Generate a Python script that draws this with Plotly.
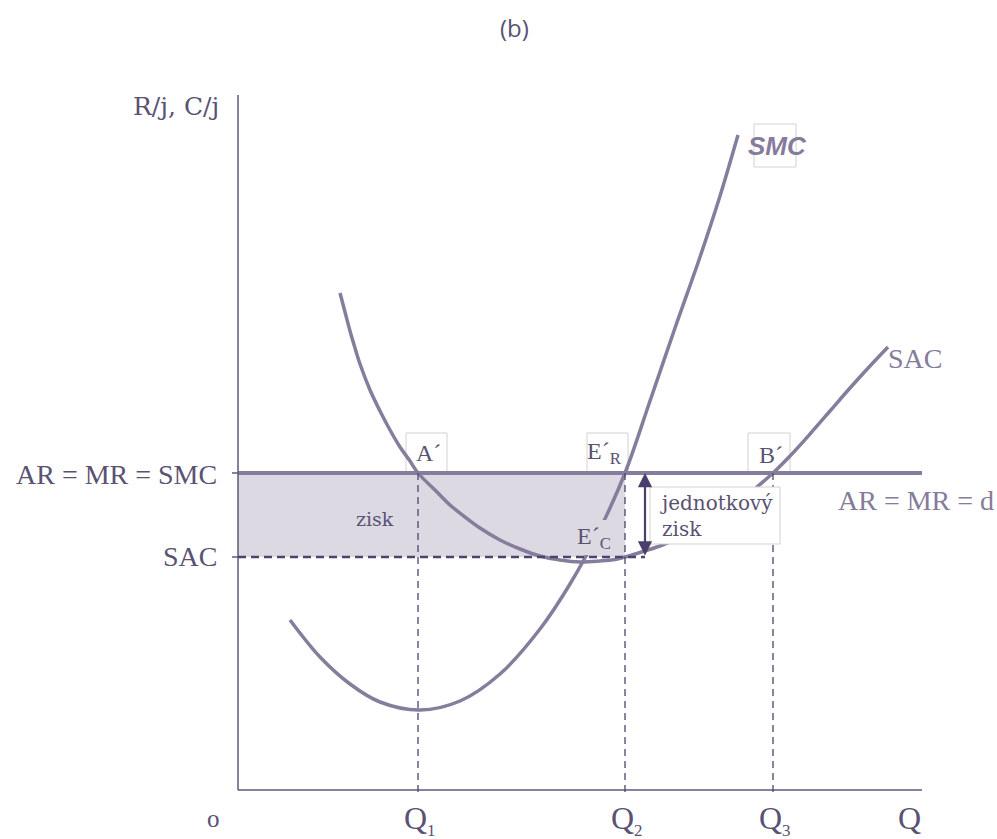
import plotly.graph_objects as go

# ---- values (quantity units on x, price/cost per unit on y) ----
sac_q = [10.2, 10.7, 11.2, 11.7, 12.2, 13.2, 14.2, 15.2, 16.2, 17.2, 18.0,
         19.7, 21.2, 22.7, 24.2, 26.2, 28.2, 30.2, 32.2, 34.2, 36.2, 37.7,
         38.7, 40.2, 42.2, 44.2, 46.2, 48.2, 50.2, 51.9, 53.5, 55.2, 57.2,
         59.2, 61.2, 63.2, 65.0]
sac_c = [49.7, 47.8, 45.9, 44.2, 42.6, 40.0, 37.9, 36.0, 34.3, 32.9, 31.7,
         30.0, 28.5, 27.3, 26.2, 25.0, 24.1, 23.4, 23.0, 22.8, 22.9, 23.05,
         23.3, 23.75, 24.4, 25.2, 26.1, 27.3, 28.8, 30.3, 31.7, 33.4, 35.6,
         37.9, 40.2, 42.4, 44.3]

smc_q = [5.2, 8.2, 11.2, 14.2, 18.2, 22.2, 26.2, 30.2, 33.2, 36.2, 38.7,
         41.2, 43.7, 46.2, 48.2, 50.0]
smc_c = [17.0, 13.3, 10.6, 8.8, 8.0, 8.9, 11.6, 16.1, 20.6, 26.1, 31.7,
         38.9, 46.2, 53.3, 59.4, 65.5]

price = 31.7          # AR = MR = d
sac_at_q2 = 23.3      # SAC level at Q2
q_marks = [18.0, 38.7, 53.5]
q_subs = ["1", "2", "3"]
ar_end = 68.4
y_top = 69.5

# ---- styling ----
CURVE = "#867c9c"
AXIS = "#5f5878"
DASH = "#4b446e"
TEXT = "#5a5272"
LIGHT_TEXT = "#857b9b"
SHADE = "#dcd9e2"
BOX = "#d2d2d2"
ARROW = "#4a3f6b"
SERIF = "Liberation Serif, Times New Roman, serif"
WIDE_SERIF = "DejaVu Serif, serif"


def X(px):
    return (px - 238) / 10.0


def Y(py):
    return (790 - py) / 10.0


fig = go.Figure()

fig.add_trace(go.Scatter(x=sac_q, y=sac_c, mode="lines", line_shape="spline",
                         line=dict(color=CURVE, width=3.5), hoverinfo="skip"))
fig.add_trace(go.Scatter(x=smc_q, y=smc_c, mode="lines", line_shape="spline",
                         line=dict(color=CURVE, width=3.5), hoverinfo="skip"))
fig.add_trace(go.Scatter(x=[0, ar_end], y=[price, price], mode="lines",
                         line=dict(color=CURVE, width=4), hoverinfo="skip"))

shapes = []
# profit rectangle
shapes.append(dict(type="rect", xref="x", yref="y", x0=0, x1=q_marks[1],
                   y0=sac_at_q2, y1=price, fillcolor=SHADE, line_width=0,
                   layer="below"))
# axes
shapes.append(dict(type="line", xref="x", yref="y", x0=0, x1=0, y0=0, y1=y_top,
                   line=dict(color=AXIS, width=1.5)))
shapes.append(dict(type="line", xref="x", yref="y", x0=0, x1=ar_end, y0=0, y1=0,
                   line=dict(color=AXIS, width=1.5)))
# y ticks
for lvl in (price, sac_at_q2):
    shapes.append(dict(type="line", xref="x", yref="y", x0=X(232), x1=0,
                       y0=lvl, y1=lvl, line=dict(color=AXIS, width=1.5)))
# dashed SAC level
shapes.append(dict(type="line", xref="x", yref="y", x0=0, x1=X(645),
                   y0=sac_at_q2, y1=sac_at_q2,
                   line=dict(color=DASH, width=2.5, dash="8px,5px")))
# dashed verticals
for q in q_marks:
    shapes.append(dict(type="line", xref="x", yref="y", x0=q, x1=q,
                       y0=price, y1=Y(797),
                       line=dict(color=DASH, width=1.3, dash="7px,5px")))
# label frames
for (x0, y0, x1, y1) in [(406, 433, 447, 472), (587, 433, 628, 472),
                         (748, 433, 790, 472), (754, 124, 796, 167)]:
    shapes.append(dict(type="rect", xref="x", yref="y", x0=X(x0), x1=X(x1),
                       y0=Y(y1), y1=Y(y0), line=dict(color=BOX, width=1),
                       fillcolor="rgba(0,0,0,0)", layer="below"))
# white panel for the unit-profit caption, drawn over the curves
shapes.append(dict(type="rect", xref="x", yref="y", x0=X(650), x1=X(780),
                   y0=Y(544), y1=Y(487), line=dict(color=BOX, width=1),
                   fillcolor="white", layer="above"))
# E'C caption patch on the shaded band
shapes.append(dict(type="rect", xref="x", yref="y", x0=X(577), x1=X(608),
                   y0=Y(555), y1=Y(520), line_width=0,
                   fillcolor=SHADE, layer="above"))

ann = []


def label(px, py, text, size=26, color=TEXT, xanchor="center", family=SERIF,
          **kw):
    ann.append(dict(x=X(px), y=Y(py), xref="x", yref="y", text=text,
                    showarrow=False, xanchor=xanchor, yanchor="middle",
                    font=dict(family=family, size=size, color=color), **kw))


label(514, 27, "(b)", size=24, family="Open Sans, sans-serif")
label(176, 106, "R/j, C/j", size=25, family=WIDE_SERIF)
label(219, 474, "AR = MR = SMC", size=28, xanchor="right")
label(219, 556, "SAC", size=28, xanchor="right")
label(213, 818, "o", size=25)
for q, s in zip(q_marks, q_subs):
    ann.append(dict(x=q + 0.15, y=Y(820), xref="x", yref="y",
                    text="Q<sub><span style='font-size:17px'>%s</span></sub>" % s,
                    showarrow=False, xanchor="center", yanchor="middle",
                    font=dict(family=SERIF, size=32, color=TEXT)))
label(909, 818, "Q", size=32)
label(886, 358, "SAC", size=28, color=LIGHT_TEXT, xanchor="left")
label(836, 500, "AR = MR = d", size=28, color=LIGHT_TEXT, xanchor="left")
label(777, 146, "<b><i>SMC</i></b>", size=26, color=LIGHT_TEXT,
      family="Liberation Sans, Arial, sans-serif")
label(428, 453, "A´", size=24)
label(604, 453, "E´<sub>R</sub>", size=24)
label(771, 455, "B´", size=24)
label(375, 519, "zisk", size=19, family=WIDE_SERIF)
label(594, 538, "E´<sub>C</sub>", size=24)
ann.append(dict(x=X(658), y=Y(516), xref="x", yref="y",
                text="jednotkový<br>zisk", showarrow=False, align="left",
                xanchor="left", yanchor="middle",
                font=dict(family=WIDE_SERIF, size=20, color=TEXT)))
# unit profit arrow
ann.append(dict(x=X(645), y=price, ax=X(645), ay=sac_at_q2, xref="x", yref="y",
                axref="x", ayref="y", text="", showarrow=True, arrowhead=2,
                startarrowhead=2, arrowside="end+start", arrowsize=1.3,
                arrowwidth=2.2, arrowcolor=ARROW, standoff=0, startstandoff=0))

fig.update_layout(
    width=997, height=839,
    margin=dict(l=0, r=0, t=0, b=0),
    paper_bgcolor="white", plot_bgcolor="white",
    showlegend=False,
    xaxis=dict(range=[X(0), X(997)], visible=False, fixedrange=True),
    yaxis=dict(range=[Y(839), Y(0)], visible=False, fixedrange=True),
    shapes=shapes, annotations=ann,
)

fig.write_html("out.html")
